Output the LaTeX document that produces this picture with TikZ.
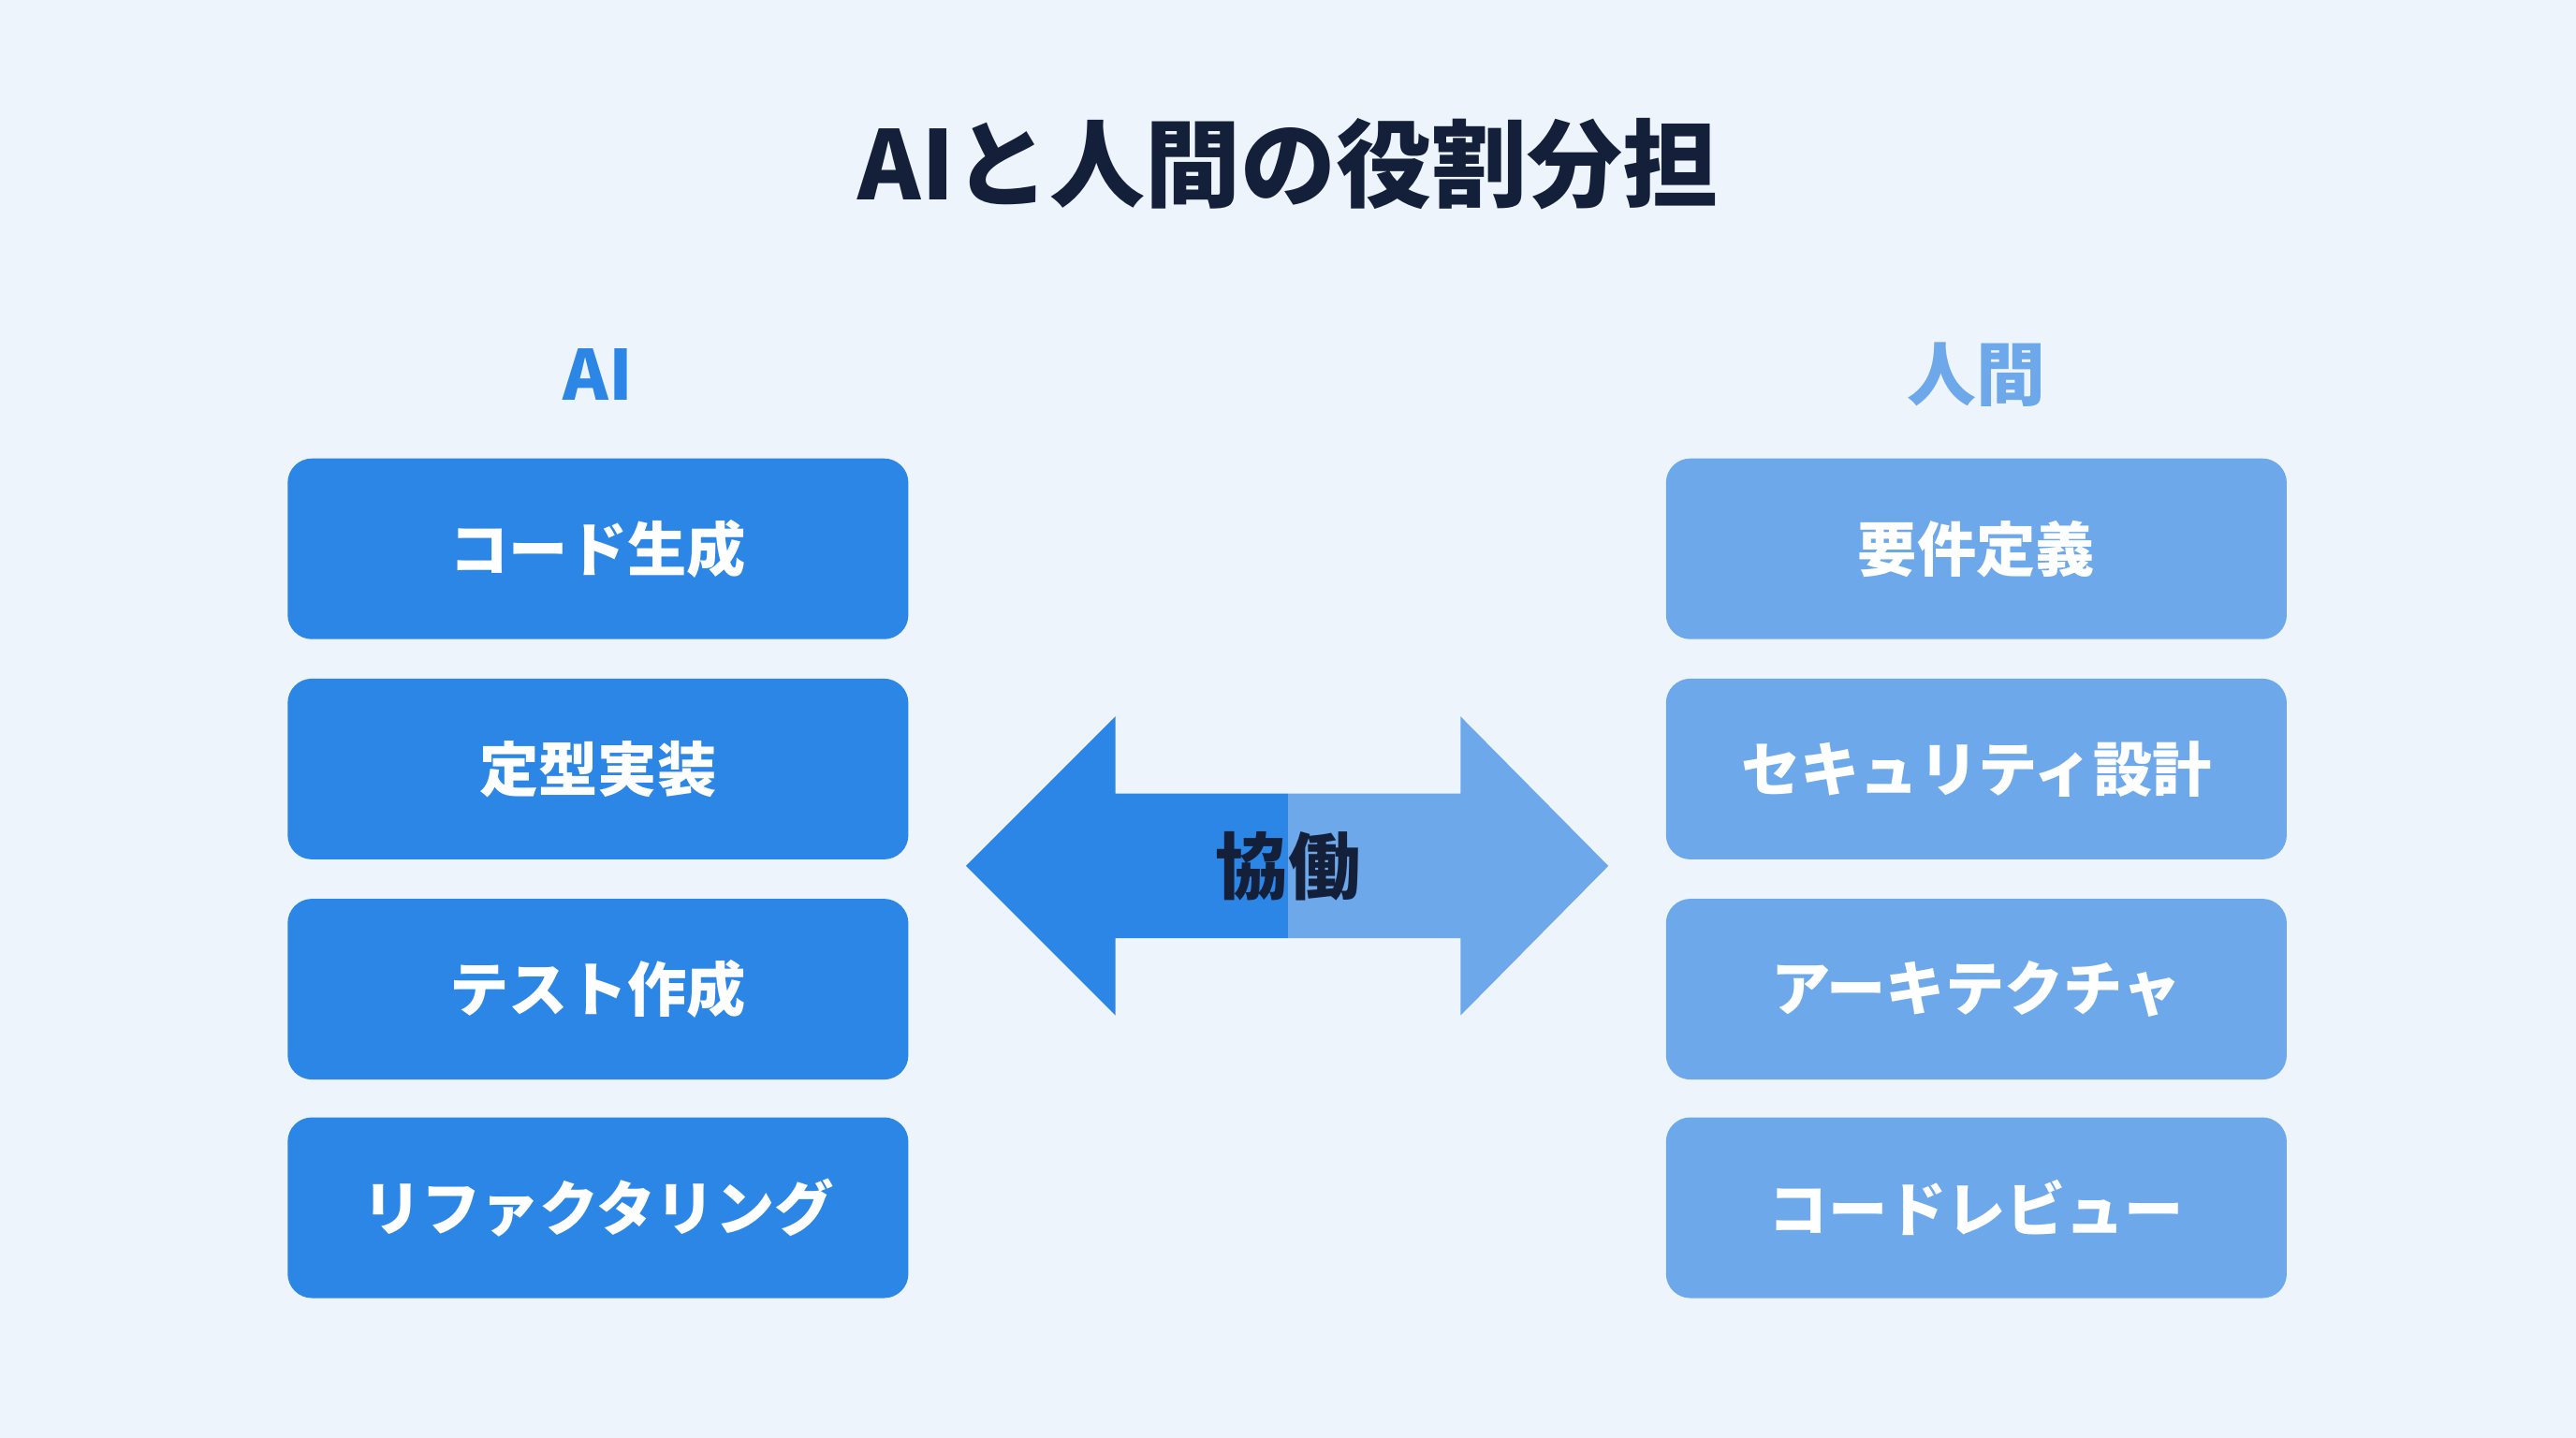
\documentclass[tikz,border=0pt]{standalone}
\usepackage{fontspec}
\setmainfont{Noto Sans CJK JP}
\usetikzlibrary{positioning}
\definecolor{bgcol}{HTML}{EEF4FB}
\definecolor{aiblue}{HTML}{2B86E6}
\definecolor{humanblue}{HTML}{6DA8EB}
\definecolor{navy}{HTML}{14203A}
\begin{document}
\begin{tikzpicture}[x=0.01755cm, y=-0.01755cm,
  aibox/.style={fill=aiblue, rounded corners=2.6mm, minimum width=66.3mm, minimum height=19.3mm, text=white, font=\bfseries\fontsize{18}{20}\selectfont},
  humanbox/.style={aibox, fill=humanblue},
  head/.style={font=\bfseries\fontsize{21}{24}\selectfont}]
\fill[bgcol] (0,0) rectangle (1568,875);
\node[text=navy, font=\bfseries\fontsize{29}{32}\selectfont] (title) at (784,100) {AIと人間の役割分担};
\node[head, text=aiblue] (aihead) at (364,228) {AI};
\node[head, text=humanblue] (humanhead) at (1203,228) {人間};

\node[aibox] (ai1) at (364,334) {コード生成};
\node[aibox] (ai2) at (364,468) {定型実装};
\node[aibox] (ai3) at (364,602) {テスト作成};
\node[aibox] (ai4) at (364,735) {リファクタリング};

\node[humanbox] (hu1) at (1203,334) {要件定義};
\node[humanbox] (hu2) at (1203,468) {セキュリティ設計};
\node[humanbox] (hu3) at (1203,602) {アーキテクチャ};
\node[humanbox] (hu4) at (1203,735) {コードレビュー};

% double arrow
\fill[aiblue] (588,527) -- (679,436) -- (679,483) -- (784,483) -- (784,571) -- (679,571) -- (679,618) -- cycle;
\fill[humanblue] (979,527) -- (889,436) -- (889,483) -- (784,483) -- (784,571) -- (889,571) -- (889,618) -- cycle;
\node[text=navy, font=\bfseries\fontsize{22}{24}\selectfont] (collab) at (784,527) {協働};
\end{tikzpicture}
\end{document}
